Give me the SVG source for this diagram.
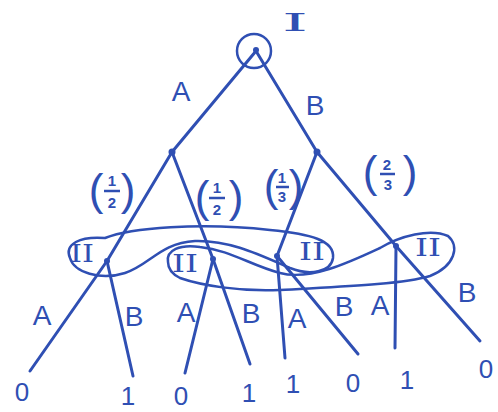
<svg xmlns="http://www.w3.org/2000/svg" width="498" height="412" viewBox="0 0 498 412">
<style>
.e{stroke:#2f4fb3;stroke-width:3;stroke-linecap:round;fill:none}
.s{stroke:#2f4fb3;stroke-width:2.5;fill:none}
.t{fill:#2f4fb3;font-family:"Liberation Sans",Arial,sans-serif;font-size:28px;text-anchor:middle}
.n{fill:#2f4fb3;font-family:"Liberation Sans",Arial,sans-serif;font-size:26px;text-anchor:middle}
.r{fill:#2f4fb3;font-family:"DejaVu Serif","Liberation Serif",serif;font-size:24px;text-anchor:middle}
.f{fill:#2f4fb3;font-family:"Liberation Sans",Arial,sans-serif;font-size:15px;font-weight:bold;text-anchor:middle}
.p{fill:#2f4fb3;font-family:"Liberation Sans",Arial,sans-serif;font-size:44px;text-anchor:middle}
.d{fill:#2f4fb3}
</style>
<rect width="498" height="412" fill="#ffffff"/>
<g id="connectors">
<line class="e" x1="256" y1="51" x2="172" y2="152"/>
<line class="e" x1="256" y1="51" x2="317" y2="152"/>
<line class="e" x1="172" y1="152" x2="107" y2="261"/>
<line class="e" x1="172" y1="152" x2="213" y2="259"/>
<line class="e" x1="317" y1="152" x2="277" y2="256"/>
<line class="e" x1="317" y1="152" x2="396" y2="246"/>
<line class="e" x1="107" y1="261" x2="30" y2="371"/>
<line class="e" x1="107" y1="261" x2="133" y2="376"/>
<line class="e" x1="213" y1="259" x2="185" y2="373"/>
<line class="e" x1="213" y1="259" x2="250" y2="364"/>
<line class="e" x1="277" y1="256" x2="285" y2="358"/>
<line class="e" x1="277" y1="256" x2="358" y2="354"/>
<line class="e" x1="396" y1="246" x2="395" y2="348"/>
<line class="e" x1="396" y1="246" x2="480" y2="341"/>
<text class="t" x="181" y="101">A</text>
<text class="t" x="315" y="115">B</text>
<text class="t" x="42" y="325">A</text>
<text class="t" x="134" y="326">B</text>
<text class="t" x="186" y="322">A</text>
<text class="t" x="251" y="323">B</text>
<text class="t" x="297" y="328">A</text>
<text class="t" x="344" y="316">B</text>
<text class="t" x="380" y="315">A</text>
<text class="t" x="467" y="302">B</text>
</g>
<g id="root">
<circle class="s" cx="254" cy="51" r="17"/>
<circle class="d" cx="256" cy="50" r="3"/>
<text class="r" x="295" y="31" font-size="25" textLength="26" lengthAdjust="spacingAndGlyphs">I</text>
</g>
<g id="chanceA">
<circle class="d" cx="172" cy="152" r="3.5"/>
<text class="p" x="96" y="205">(</text>
<text class="p" x="128" y="205">)</text>
<text class="f" x="112" y="186">1</text>
<line class="s" x1="104" y1="191" x2="120" y2="191" stroke-width="2"/>
<text class="f" x="112" y="208">2</text>
<text class="p" x="202" y="212">(</text>
<text class="p" x="236" y="212">)</text>
<text class="f" x="217" y="193">1</text>
<line class="s" x1="209" y1="198" x2="225" y2="198" stroke-width="2"/>
<text class="f" x="217" y="215">2</text>
</g>
<g id="chanceB">
<circle class="d" cx="317" cy="152" r="3.5"/>
<text class="p" x="271" y="201">(</text>
<text class="p" x="296" y="201">)</text>
<text class="f" x="282" y="183">1</text>
<line class="s" x1="276" y1="187" x2="289" y2="187" stroke-width="2"/>
<text class="f" x="282" y="202">3</text>
<text class="p" x="370" y="187">(</text>
<text class="p" x="410" y="187">)</text>
<text class="f" x="387" y="170">2</text>
<line class="s" x1="380" y1="174" x2="395" y2="174" stroke-width="2"/>
<text class="f" x="388" y="190">3</text>
</g>
<g id="infoset1">
<path class="s" d="M 70,258 C 64,244 80,236 105,238 C 130,228 200,222 270,230 C 310,234 335,240 333,258 C 331,272 310,276 290,268 C 260,255 230,240 195,241 C 160,243 150,265 125,273 C 100,281 74,272 70,258 Z"/>
<circle class="d" cx="107" cy="261" r="3"/>
<circle class="d" cx="277" cy="256" r="3"/>
<text class="r" x="82" y="262" textLength="24" lengthAdjust="spacingAndGlyphs">II</text>
<text class="r" x="312" y="260" textLength="26" lengthAdjust="spacingAndGlyphs">II</text>
</g>
<g id="infoset2">
<path class="s" d="M 168,262 C 166,250 180,244 200,247 C 230,250 250,265 280,273 C 310,281 350,262 380,248 C 400,236 430,228 448,236 C 460,246 455,266 430,276 C 400,285 330,287 280,290 C 240,292 200,285 180,278 C 172,274 168,268 168,262 Z"/>
<circle class="d" cx="213" cy="259" r="3"/>
<circle class="d" cx="396" cy="246" r="3"/>
<text class="r" x="185" y="272" textLength="26" lengthAdjust="spacingAndGlyphs">II</text>
<text class="r" x="428" y="256" textLength="26" lengthAdjust="spacingAndGlyphs">II</text>
</g>
<g id="payoffs">
<text class="n" x="22" y="401">0</text>
<text class="n" x="128" y="405">1</text>
<text class="n" x="181" y="405">0</text>
<text class="n" x="249" y="402">1</text>
<text class="n" x="293" y="393">1</text>
<text class="n" x="353" y="392">0</text>
<text class="n" x="407" y="389">1</text>
<text class="n" x="486" y="378">0</text>
</g>
</svg>
